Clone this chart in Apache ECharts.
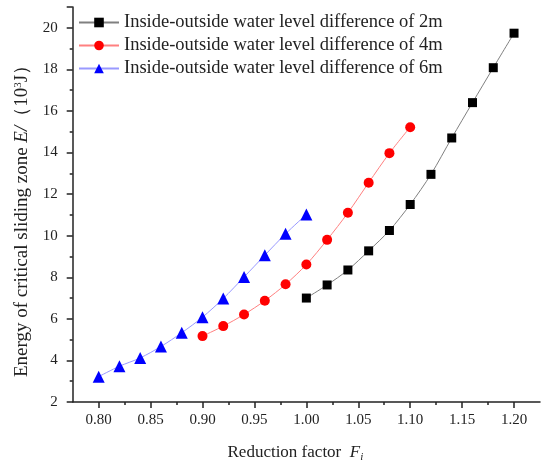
<!DOCTYPE html>
<html><head><meta charset="utf-8">
<script src="https://cdn.jsdelivr.net/npm/echarts@6/dist/echarts.min.js"></script>
<style>html,body{margin:0;padding:0;background:#fff}#c{width:545px;height:468px}</style>
</head><body><div id="c"></div>
<script>
var x2 = [1.00, 1.02, 1.04, 1.06, 1.08, 1.10, 1.12, 1.14, 1.16, 1.18, 1.20];
var e2 = [7.00, 7.63, 8.35, 9.27, 10.25, 11.50, 12.95, 14.70, 16.40, 18.08, 19.74];
var x4 = [0.90, 0.92, 0.94, 0.96, 0.98, 1.00, 1.02, 1.04, 1.06, 1.08, 1.10];
var e4 = [5.17, 5.65, 6.21, 6.87, 7.66, 8.61, 9.80, 11.10, 12.55, 13.97, 15.22];
var x6 = [0.80, 0.82, 0.84, 0.86, 0.88, 0.90, 0.92, 0.94, 0.96, 0.98, 1.00];
var e6 = [3.22, 3.72, 4.12, 4.67, 5.33, 6.08, 6.98, 8.01, 9.06, 10.09, 11.02];
var seriesNames = ['Inside-outside water level difference of 2m','Inside-outside water level difference of 4m','Inside-outside water level difference of 6m'];
var xMajorTicks = [0.80, 0.85, 0.90, 0.95, 1.00, 1.05, 1.10, 1.15, 1.20];
var xMinorTicks = [0.825, 0.875, 0.925, 0.975, 1.025, 1.075, 1.125, 1.175];

function pairs(xs, ys){ return xs.map(function(x,i){ return [x, ys[i]]; }); }
var FONT = '"Liberation Serif","Times New Roman",serif';
var AX = '#222';
var chart = echarts.init(document.getElementById('c'), null, {renderer:'canvas'});
chart.setOption({
  animation:false,
  backgroundColor:'#fff',
  grid:{left:72.7, right:5, top:7, bottom:65.3, containLabel:false},
  legend:{
    orient:'vertical', left:73, top:8, itemWidth:40, itemHeight:12, itemGap:4,
    textStyle:{fontFamily:FONT, fontSize:18.5, color:'#222'},
    data:seriesNames
  },
  xAxis:[{
    type:'value', min:0.775, max:1.225,
    axisLine:{show:true, onZero:false, lineStyle:{color:AX, width:1.5}},
    axisTick:{show:true, length:6, customValues:xMajorTicks, lineStyle:{color:AX, width:1.5}},
    axisLabel:{customValues:xMajorTicks, margin:11, fontFamily:FONT, fontSize:15, color:'#222',
      formatter:function(v){ return v.toFixed(2); }},
    splitLine:{show:false},
    name:'Reduction factor  {i|F}{s|i}', nameLocation:'middle', nameGap:40,
    nameTextStyle:{fontFamily:FONT, fontSize:17, color:'#222', padding:[0,22,0,0],
      rich:{i:{fontFamily:FONT, fontStyle:'italic', fontSize:17, color:'#222'},
            s:{fontFamily:FONT, fontStyle:'italic', fontSize:11, color:'#222', padding:[10,0,0,0]}}}
  },{
    type:'value', min:0.775, max:1.225, position:'bottom',
    axisLine:{show:false},
    axisTick:{show:true, length:3, customValues:xMinorTicks, lineStyle:{color:AX, width:1.5}},
    axisLabel:{show:false}, splitLine:{show:false}
  }],
  yAxis:{
    type:'value', min:2, max:21, interval:2,
    axisLine:{show:true, onZero:false, lineStyle:{color:AX, width:1.5}},
    axisTick:{show:true, length:6, lineStyle:{color:AX, width:1.5}},
    minorTick:{show:true, splitNumber:2, length:3, lineStyle:{color:AX, width:1.5}},
    axisLabel:{margin:15, fontFamily:FONT, fontSize:15, color:'#222', showMaxLabel:false},
    splitLine:{show:false},
    name:'Energy of critical sliding zone {i|E/}（10{sup|3}J）', nameLocation:'middle', nameGap:39, nameRotate:90,
    nameTextStyle:{fontFamily:FONT, fontSize:19, color:'#222', padding:[0,24,0,0],
      rich:{i:{fontFamily:FONT, fontStyle:'italic', fontSize:19, color:'#222'},
            sup:{fontFamily:FONT, fontSize:11, color:'#222', padding:[0,0,9,0]}}}
  },
  series:[
    {name:seriesNames[0], type:'line', data:pairs(x2,e2), smooth:0.3, symbol:'rect', symbolSize:9,
     itemStyle:{color:'#000'}, lineStyle:{color:'#808080', width:1}},
    {name:seriesNames[1], type:'line', data:pairs(x4,e4), smooth:0.3, symbol:'circle', symbolSize:10,
     itemStyle:{color:'#ff0000'}, lineStyle:{color:'#ff8080', width:1}},
    {name:seriesNames[2], type:'line', data:pairs(x6,e6), smooth:0.3, symbol:'triangle', symbolSize:12,
     itemStyle:{color:'#0000ff'}, lineStyle:{color:'#9999ff', width:1}}
  ]
});
</script></body></html>
